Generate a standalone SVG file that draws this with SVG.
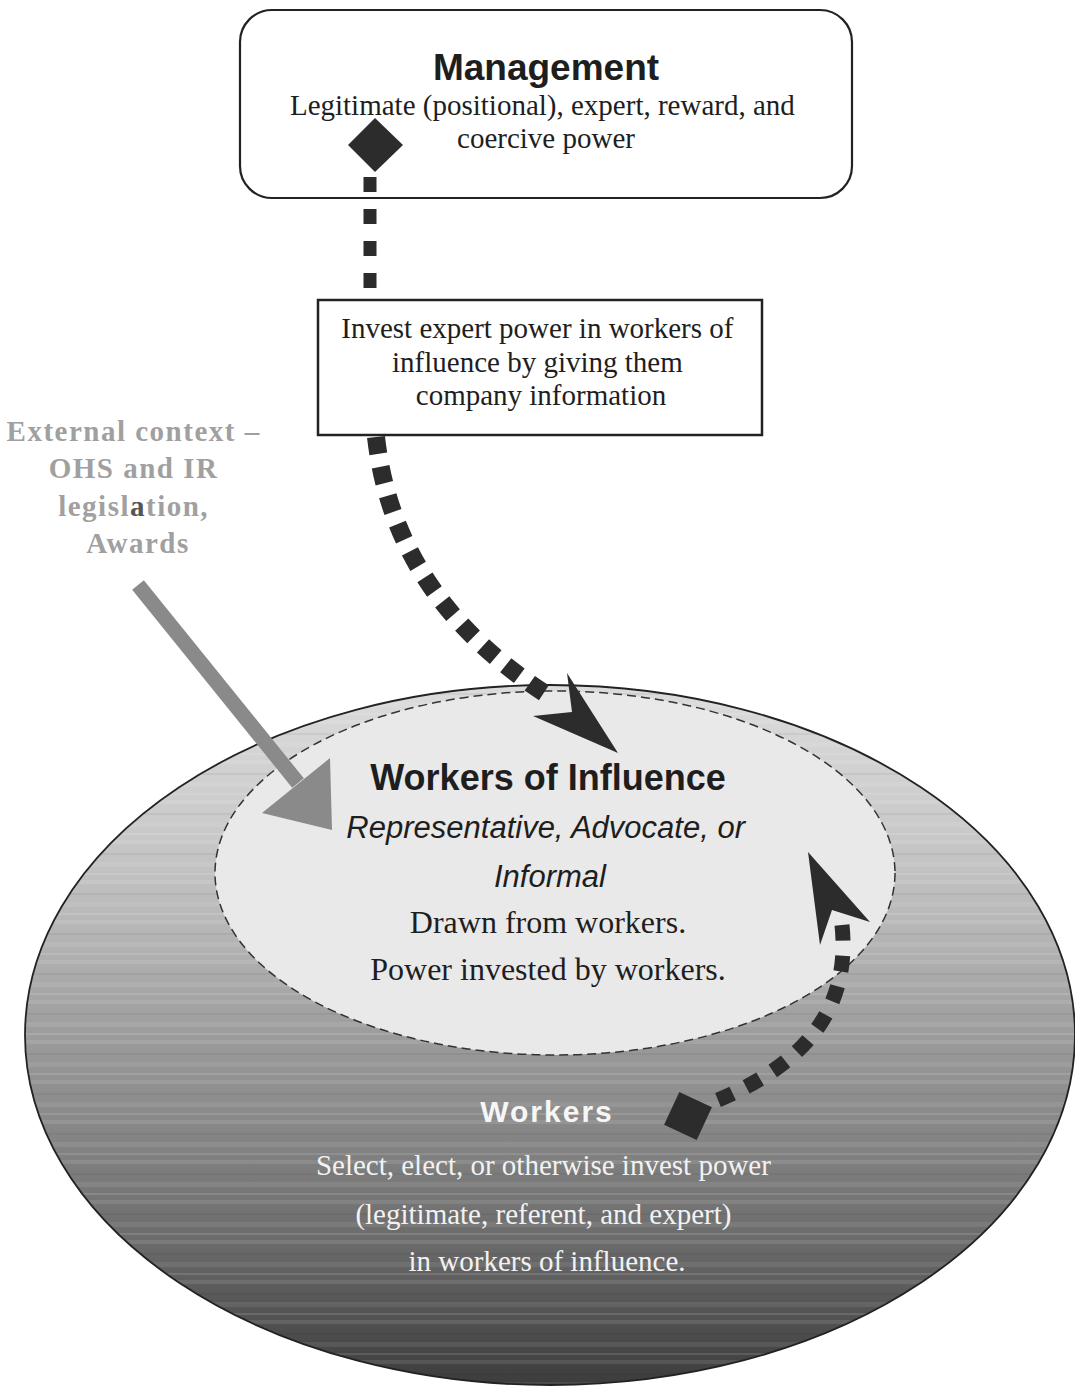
<svg xmlns="http://www.w3.org/2000/svg" width="1075" height="1386" viewBox="0 0 1075 1386">
<style>
.sans{font-family:"Liberation Sans",Arial,sans-serif}
.serif{font-family:"Liberation Serif","Times New Roman",serif}
.ink{fill:#1e1e1e}
.dots{fill:none;stroke:#2c2c2c}
.head{fill:#2c2c2c}
</style>
<defs>
<linearGradient id="outerGrad" x1="0" y1="0" x2="0" y2="1">
<stop offset="0" stop-color="#dcdcdc"/>
<stop offset="0.2" stop-color="#cacaca"/>
<stop offset="0.35" stop-color="#b6b6b6"/>
<stop offset="0.5" stop-color="#9c9c9c"/>
<stop offset="0.65" stop-color="#848484"/>
<stop offset="0.8" stop-color="#6a6a6a"/>
<stop offset="1" stop-color="#3c3c3c"/>
</linearGradient>
<pattern id="stripes" x="0" y="0" width="1075" height="40" patternUnits="userSpaceOnUse">
<rect x="0" y="0" width="1075" height="4" fill="#ffffff" opacity="0.10"/>
<rect x="0" y="13" width="1075" height="2" fill="#000000" opacity="0.05"/>
<rect x="0" y="22" width="1075" height="5" fill="#ffffff" opacity="0.08"/>
<rect x="0" y="33" width="1075" height="2" fill="#ffffff" opacity="0.12"/>
</pattern>
</defs>
<rect width="1075" height="1386" fill="#ffffff"/>

<g id="node-workers">
<ellipse cx="550" cy="1035" rx="525" ry="350" fill="url(#outerGrad)"/>
<ellipse cx="550" cy="1035" rx="525" ry="350" fill="url(#stripes)"/>
<ellipse cx="550" cy="1035" rx="525" ry="350" fill="none" stroke="#222" stroke-width="1.8"/>
<text x="547" y="1122" class="sans" font-size="30" font-weight="bold" letter-spacing="2" text-anchor="middle" fill="#f6f6f6">Workers</text>
<text class="serif" font-size="29" text-anchor="middle" fill="#f2f2f2">
<tspan x="547" y="1175">Select, elect, or otherwise invest power</tspan>
<tspan x="547" y="1224">(legitimate, referent, and expert)</tspan>
<tspan x="547" y="1271">in workers of influence.</tspan>
</text>
</g>

<g id="node-influence">
<ellipse cx="555" cy="873" rx="340" ry="182" fill="#e9e9e9" stroke="#333" stroke-width="1.5" stroke-dasharray="9 5"/>
<text x="548" y="790" class="sans ink" font-size="36" font-weight="bold" text-anchor="middle">Workers of Influence</text>
<text class="sans ink" font-size="31" font-style="italic" text-anchor="middle">
<tspan x="550" y="838">Representative, Advocate, or</tspan>
<tspan x="550" y="887">Informal</tspan>
</text>
<text class="serif ink" font-size="32" text-anchor="middle">
<tspan x="552" y="933">Drawn from workers.</tspan>
<tspan x="548" y="980">Power invested by workers.</tspan>
</text>
</g>

<g id="node-management">
<rect x="240" y="10" width="612" height="188" rx="32" ry="32" fill="#ffffff" stroke="#222" stroke-width="2.2"/>
<text x="546" y="80" class="sans ink" font-size="37" font-weight="bold" text-anchor="middle">Management</text>
<text class="serif ink" font-size="29" text-anchor="middle">
<tspan x="546" y="115">Legitimate (positional), expert, reward, and</tspan>
<tspan x="546" y="148">coercive power</tspan>
</text>
</g>

<g id="node-invest">
<rect x="318" y="300" width="444" height="135" fill="#ffffff" stroke="#222" stroke-width="2.5"/>
<text class="serif ink" font-size="29" text-anchor="middle">
<tspan x="541" y="338">Invest expert power in workers of</tspan>
<tspan x="541" y="372">influence by giving them</tspan>
<tspan x="541" y="405">company information</tspan>
</text>
</g>

<g id="node-external">
<text class="serif" font-size="29" font-weight="bold" letter-spacing="1.5" text-anchor="middle" fill="#a0a0a0">
<tspan x="138" y="441">External context –</tspan>
<tspan x="138" y="478">OHS and IR</tspan>
<tspan x="138" y="516">legisl<tspan fill="#555">a</tspan>tion,</tspan>
<tspan x="138" y="553">Awards</tspan>
</text>
</g>

<g id="connectors">
<!-- management to invest box -->
<polygon class="head" points="375,118 403,145 375,172 348,145"/>
<line class="dots" x1="370" y1="177" x2="370" y2="292" stroke-width="13" stroke-dasharray="15 17"/>
<!-- invest box to workers of influence -->
<path class="dots" d="M376,437 C390,560 460,640 552,698" stroke-width="18" stroke-dasharray="17 13"/>
<polygon class="head" points="618,753 567,673 572,712 533,716"/>
<!-- external context arrow -->
<line x1="138" y1="585" x2="298" y2="783" stroke="#8a8a8a" stroke-width="15"/>
<polygon points="330,758 332,830 262,813" fill="#8a8a8a"/>
<!-- workers to workers of influence -->
<rect x="-18" y="-18" width="36" height="36" class="head" transform="translate(688,1116) rotate(25)"/>
<path class="dots" d="M718,1100 C790,1070 852,1020 842,925" stroke-width="15" stroke-dasharray="16 15"/>
<polygon class="head" points="808,852 870,922 832,910 820,945"/>
</g>
</svg>
